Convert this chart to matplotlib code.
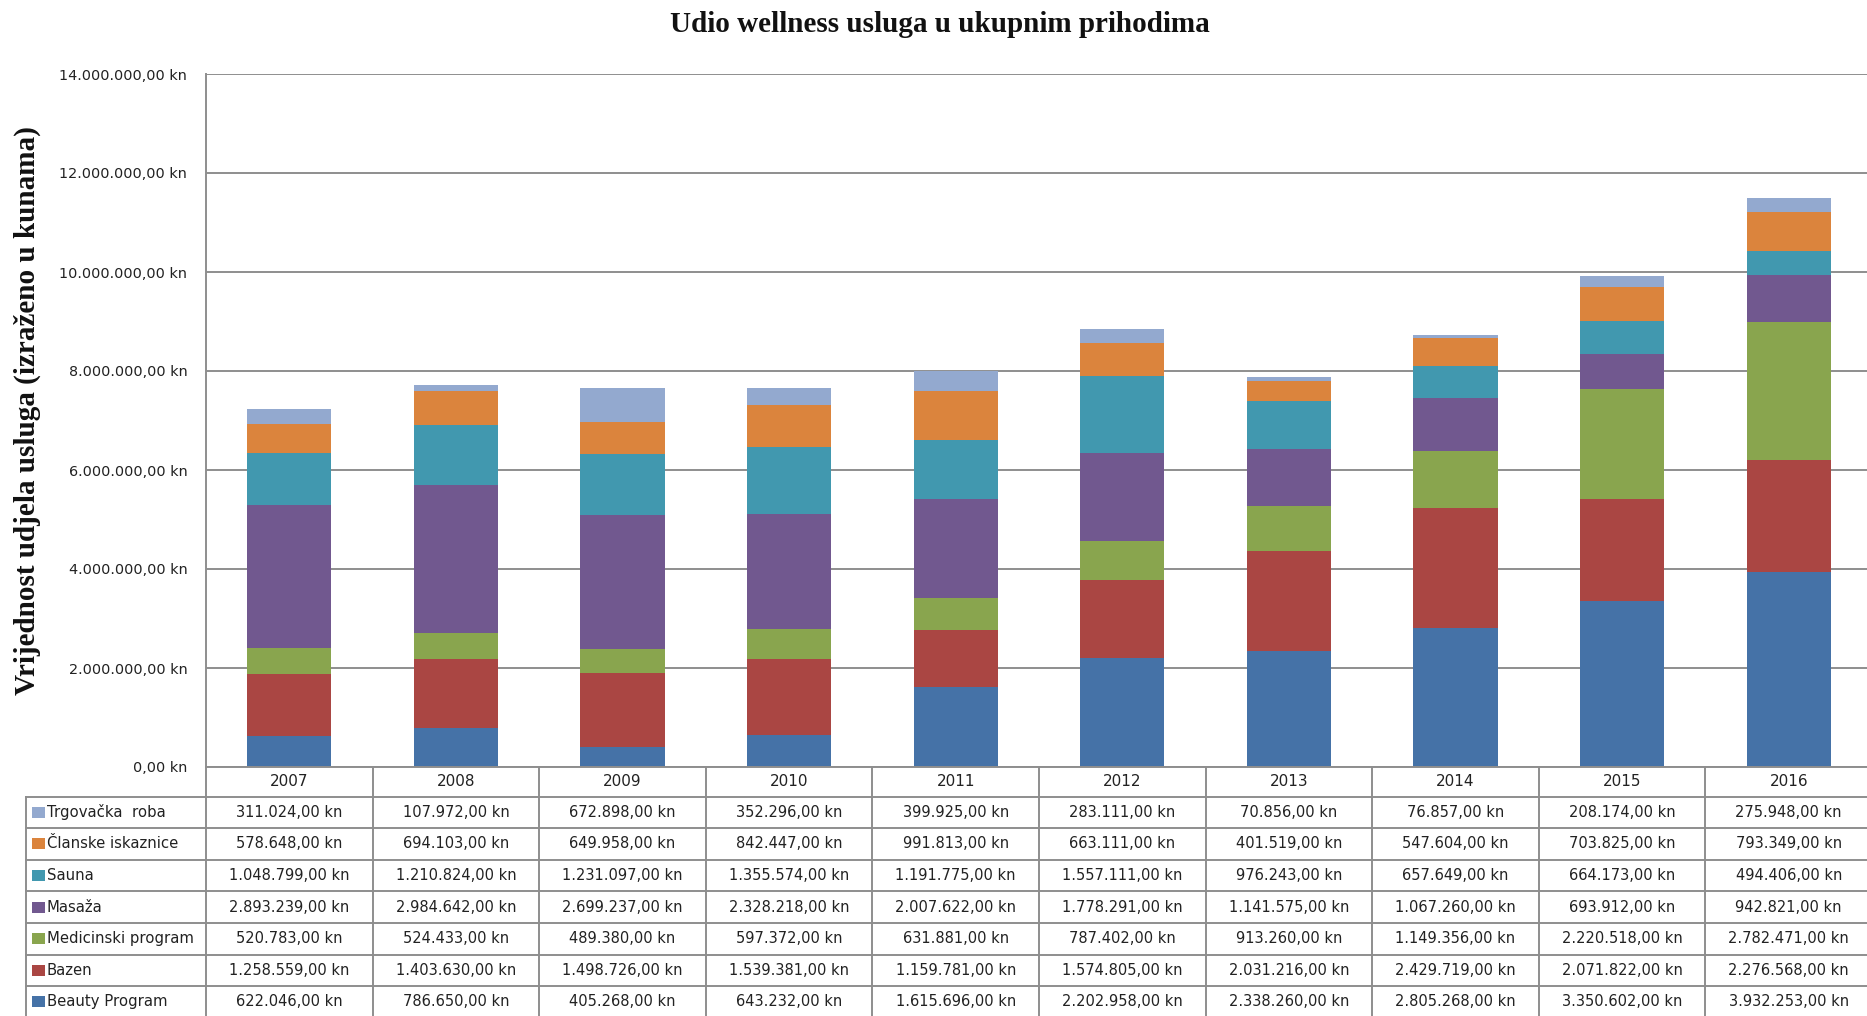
import matplotlib
matplotlib.use("Agg")
import matplotlib.pyplot as plt
from matplotlib.lines import Line2D
from matplotlib.patches import Rectangle
from matplotlib.transforms import Affine2D, blended_transform_factory

years = ["2007", "2008", "2009", "2010", "2011", "2012", "2013", "2014", "2015", "2016"]

# Revenue per service (kn), stacked bottom to top
beauty_program = [622046, 786650, 405268, 643232, 1615696, 2202958, 2338260, 2805268, 3350602, 3932253]
bazen = [1258559, 1403630, 1498726, 1539381, 1159781, 1574805, 2031216, 2429719, 2071822, 2276568]
medicinski_program = [520783, 524433, 489380, 597372, 631881, 787402, 913260, 1149356, 2220518, 2782471]
masaza = [2893239, 2984642, 2699237, 2328218, 2007622, 1778291, 1141575, 1067260, 693912, 942821]
sauna = [1048799, 1210824, 1231097, 1355574, 1191775, 1557111, 976243, 657649, 664173, 494406]
clanske_iskaznice = [578648, 694103, 649958, 842447, 991813, 663111, 401519, 547604, 703825, 793349]
trgovacka_roba = [311024, 107972, 672898, 352296, 399925, 283111, 70856, 76857, 208174, 275948]

series_names = ["Beauty Program", "Bazen", "Medicinski program", "Masaža",
                "Sauna", "Članske iskaznice", "Trgovačka  roba"]
series_values = [beauty_program, bazen, medicinski_program, masaza,
                 sauna, clanske_iskaznice, trgovacka_roba]
series_colors = ["#4572A7", "#AA4643", "#89A54E", "#71588F",
                 "#4198AF", "#DB843D", "#93A9CF"]

title = "Udio wellness usluga u ukupnim prihodima"
ylabel = "Vrijednost udjela usluga (izraženo u kunama)"

W, H = 1867, 1016
DPI = 100


def kn(v):
    s = f"{v:,.2f}".replace(",", "X").replace(".", ",").replace("X", ".")
    return s + " kn"


fig = plt.figure(figsize=(W / DPI, H / DPI), dpi=DPI)
fig.patch.set_facecolor("white")

# plot area in pixels
left_px, right_px, top_px, zero_px = 206, 1872, 74, 767
ax = fig.add_axes([left_px / W, 1 - zero_px / H,
                   (right_px - left_px) / W, (zero_px - top_px) / H])

x = list(range(len(years)))
bottom = [0] * len(years)
for name, vals, col in zip(series_names, series_values, series_colors):
    ax.bar(x, vals, width=0.505, bottom=bottom, color=col, label=name,
           edgecolor="none", zorder=3)
    bottom = [b + v for b, v in zip(bottom, vals)]

grid_col = "#8e8e8e"
text_col = "#222222"
ax.set_xlim(-0.5, len(years) - 0.5)
ax.set_ylim(0, 14_000_000)
yt = list(range(0, 14_000_001, 2_000_000))
ax.set_yticks(yt)
ax.set_yticklabels([kn(v) for v in yt], fontsize=10.4, color=text_col,
                   family="DejaVu Sans")
ax.tick_params(axis="y", length=0, pad=13.5)
ax.set_xticks([])
ax.yaxis.grid(True, color=grid_col, linewidth=1.4, zorder=0)
for s in ["top", "right", "bottom"]:
    ax.spines[s].set_visible(False)
ax.spines["left"].set_color(grid_col)
ax.spines["left"].set_linewidth(1.4)

fig.text(940 / W, 1 - 25 / H, title, ha="center", va="center",
         family="Liberation Serif", fontweight="bold", fontsize=21, color="#111111")
fig.text(27 / W, 1 - 411 / H, ylabel, ha="center", va="center", rotation=90,
         family="Liberation Serif", fontweight="bold", fontsize=21, color="#111111")

# data table below the plot: x follows the bar slots, y in pixels from top
pix = Affine2D().scale(1.0, -1.0).translate(0, H)
tr = blended_transform_factory(ax.transData, pix)

header_top, header_h, row_h = 767, 29.5, 31.6
row_tops = [header_top + header_h + i * row_h for i in range(len(series_names) + 1)]
legend_left = 26
lw = 1.4

# header line and vertical column lines
fig.add_artist(Line2D([-0.5, len(years) - 0.5], [header_top, header_top],
                      transform=tr, color=grid_col, lw=lw))
for k in range(len(years) + 1):
    fig.add_artist(Line2D([k - 0.5, k - 0.5], [header_top, H + 5],
                          transform=tr, color=grid_col, lw=lw))
fig.add_artist(Line2D([legend_left, legend_left], [row_tops[0], H + 5],
                      transform=pix, color=grid_col, lw=lw))
for yy in row_tops:
    fig.add_artist(Line2D([legend_left, W + 10], [yy, yy],
                          transform=pix, color=grid_col, lw=lw))

txt_kw = dict(fontsize=10.5, color=text_col, family="DejaVu Sans", va="center")
for i, yr in enumerate(years):
    fig.text(i, header_top + header_h / 2, yr, transform=tr, ha="center",
             **{**txt_kw, "fontsize": 11})

table_order = list(range(len(series_names)))[::-1]
for r, si in enumerate(table_order):
    yc = row_tops[r] + row_h / 2
    fig.add_artist(Rectangle((32, yc - 5.5), 13, 11, transform=pix,
                             facecolor=series_colors[si], edgecolor="none"))
    fig.text(47, yc, series_names[si], transform=pix, ha="left",
             **{**txt_kw, "fontsize": 10.7})
    for i, v in enumerate(series_values[si]):
        fig.text(i, yc, kn(v), transform=tr, ha="center", **txt_kw)

fig.savefig("out.png", dpi=DPI, facecolor="white")
